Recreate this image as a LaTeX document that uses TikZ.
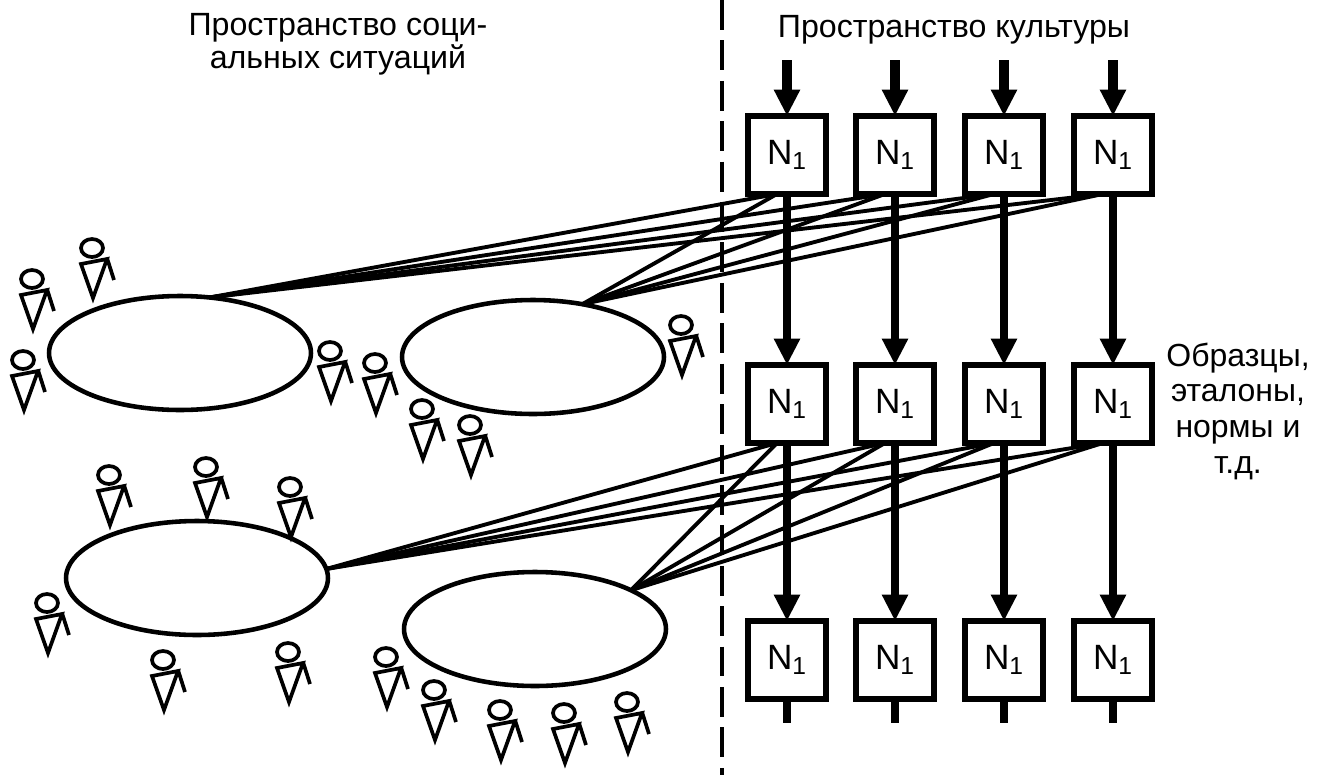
\documentclass[tikz,border=0pt]{standalone}
\usepackage{fontspec}
\setmainfont{Liberation Sans}
\usetikzlibrary{calc, positioning}
\usetikzlibrary{arrows.meta}
\usetikzlibrary{shapes.geometric}
\def\bw{1.56cm}
\def\ew{5.24cm}
\def\eh{2.28cm}
\tikzset{
    normbox/.style = {
        draw, rectangle, minimum size=\bw, inner sep=0pt, outer sep=0pt, line width=3pt, font=\fontsize{20}{22}\selectfont
    },
    group/.style = {
        draw, ellipse, minimum width=\ew, minimum height=\eh, inner sep=0pt, outer sep=0pt, line width=2.6pt
    },
    caption/.style = {
        align=center, inner sep=0pt, font=\fontsize{18.3}{18.6}\selectfont
    },
    link/.style = {line width=2.2pt},
    flow/.style = {line width=4pt, -{Triangle[width=14pt,length=15pt]}},
    Person/.pic = {
        \draw[line width=2.1pt] (0,0) ellipse (11 and 9);
        \draw[line width=2.1pt, line join=miter] (-11,16) -- (15,11) -- (1,50) -- cycle;
        \draw[line width=2.1pt] (15,10) -- (22,32);
    },
}

\begin{document}
\begin{tikzpicture}[x=0.02cm, y=-0.02cm]
        \useasboundingbox (0,0) rectangle (1323,775);
        % Place the captions
        \node[caption] (social) at (338,44) {Пространство соци-\\альных ситуаций};
        \node[caption] (culture) at (954,30) {Пространство культуры};
        \node[caption, font=\fontsize{18.2}{20.3}\selectfont] (samples) at (1238,411) {Образцы,\\эталоны,\\нормы и\\т.д.};

        % Place the boxes
        \foreach \r/\y in {a/155, b/404, c/660}{
            \foreach \c/\x in {1/787, 2/895, 3/1004, 4/1113}{
                \node[normbox] (\r\c) at (\x,\y) {N\textsubscript{1}};
            }
        }

        % Place the groups
        \node[group] (g1) at (180,353) {};
        \node[group] (g2) at (533,357) {};
        \node[group] (g3) at (197,578) {};
        \node[group] (g4) at (535,629) {};

        % Place the people
        \foreach \px/\py in {92/248, 32/279, 23/360, 330/351, 375/363, 422/409, 470/425, 681/325,
            109/475, 206/467, 290/487, 47/603, 163/660, 288/652, 386/657, 434/690, 500/710, 564/713, 627/702}{
            \draw pic at (\px,\py) {Person};
        }

        % Draw connections
        \foreach \c in {1,2,3,4}{
            \coordinate (top\c) at ($(a\c.north)+(0,-56)$);
            \coordinate (end\c) at ($(c\c.south)+(0,24)$);
            \draw[flow, line width=5.4pt] (top\c) -- (a\c.north);
            \draw[flow] (a\c.south) -- (b\c.north);
            \draw[flow] (b\c.south) -- (c\c.north);
            \draw[line width=5pt] (c\c.south) -- (end\c);
            \draw[link] ([xshift=-0.2cm] a\c.south) -- (g1.62);
            \draw[link] ([xshift=-0.2cm] a\c.south) -- (g2.47);
            \draw[link] ([xshift=-0.2cm] b\c.south) -- (g3.4);
            \draw[link] ([xshift=-0.2cm] b\c.south) -- (g4.22);
        }

        % Draw the border between the spaces
        \coordinate (bordertop) at (722,0);
        \coordinate (borderbottom) at (722,775);
        \draw[line width=2.6pt, dash pattern=on 17pt off 6pt] (bordertop) -- (borderbottom);
    \end{tikzpicture}
\end{document}
